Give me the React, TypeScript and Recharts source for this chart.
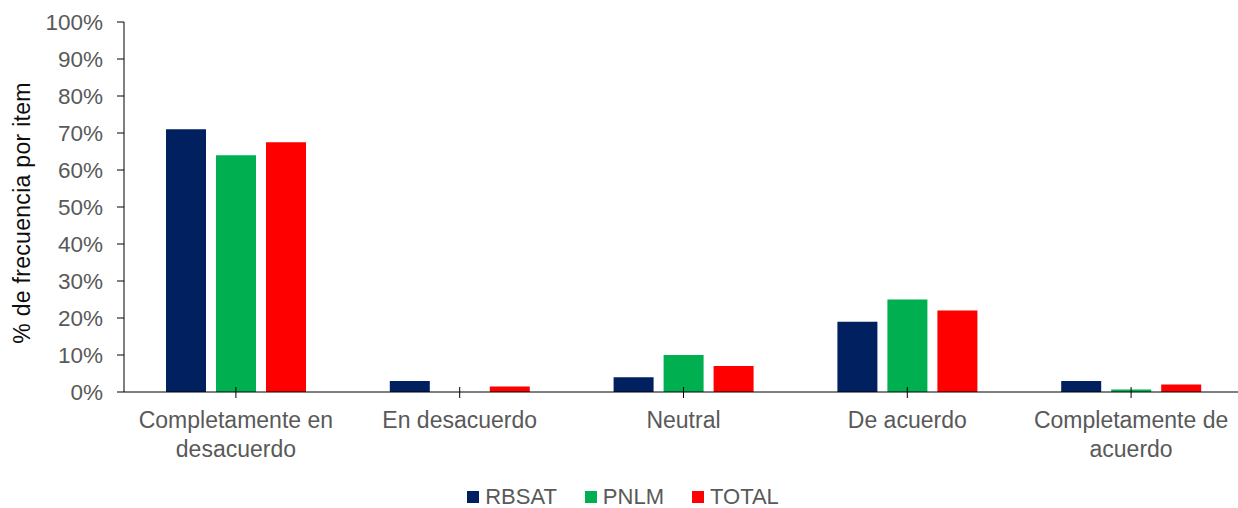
import { BarChart, Bar, XAxis, YAxis, Legend } from 'recharts'

const categories = [
  'Completamente en\ndesacuerdo',
  'En desacuerdo',
  'Neutral',
  'De acuerdo',
  'Completamente de\nacuerdo',
]
const rbsat = [71, 3, 4, 19, 3]
const pnlm = [64, 0, 10, 25, 0.7]
const total = [67.5, 1.5, 7, 22, 2]
const yTicks = [0, 10, 20, 30, 40, 50, 60, 70, 80, 90, 100]

const seriesNames = ['RBSAT', 'PNLM', 'TOTAL']
const seriesColors = ['#002060', '#00B050', '#FF0000']

const data = categories.map((c, i) => ({ name: c, RBSAT: rbsat[i], PNLM: pnlm[i], TOTAL: total[i] }))

const FONT = '"Liberation Sans", Arial, sans-serif'
const GREY = '#595959'

const CategoryTick = ({ x, y, payload }: any) => {
  const lines = String(payload.value).split('\n')
  return (
    <g>
      <line x1={x} x2={x} y1={y - 5} y2={y + 6} stroke="#000" />
      <text x={x} y={y + 36} textAnchor="middle" fill={GREY} fontSize={23} fontFamily={FONT}>
        {lines.map((l, i) => (
          <tspan key={i} x={x} dy={i === 0 ? 0 : 29}>{l}</tspan>
        ))}
      </text>
    </g>
  )
}

const YLabel = () => (
  <text x={30} y={213} transform="rotate(-90 30 213)" textAnchor="middle" fill="#0d0d0d" fontSize={23} fontFamily={FONT} letterSpacing={0.3}>
    % de frecuencia por item
  </text>
)

const LegendContent = () => (
  <div style={{ display: 'flex', justifyContent: 'center', alignItems: 'center', fontFamily: FONT, fontSize: 22, color: GREY, paddingLeft: 8 }}>
    {seriesNames.map((n, i) => (
      <div key={n} style={{ display: 'flex', alignItems: 'center', marginRight: i < seriesNames.length - 1 ? 28 : 0 }}>
        <span style={{ width: 12, height: 12, background: seriesColors[i], marginRight: 6, display: 'inline-block' }} />
        <span>{n}</span>
      </div>
    ))}
  </div>
)

export default function App() {
  return (
    <div style={{ position: 'absolute', left: 0, top: 0, width: 1238, height: 508, overflow: 'hidden', background: '#fff' }}>
      <BarChart width={1243} height={508} data={data} margin={{ top: 22, right: 0, bottom: 0, left: 0 }} barSize={40} barGap={10}>
        <XAxis
          dataKey="name"
          height={116}
          axisLine={{ stroke: '#000' }}
          tickLine={false}
          tickSize={0}
          tickMargin={0}
          interval={0}
          tick={<CategoryTick />}
        />
        <YAxis
          width={124}
          domain={[0, 100]}
          ticks={yTicks}
          tickFormatter={(v) => `${v}%`}
          axisLine={{ stroke: '#000' }}
          tickLine={{ stroke: '#000' }}
          tickSize={7}
          tickMargin={14}
          tick={{ fill: GREY, fontSize: 22.5, fontFamily: FONT }}
          label={<YLabel />}
        />
        <Legend
          verticalAlign="middle"
          align="center"
          layout="horizontal"
          content={<LegendContent />}
          wrapperStyle={{ left: 0, width: 1238, top: 484 }}
        />
        {seriesNames.map((n, i) => (
          <Bar key={n} dataKey={n} fill={seriesColors[i]} isAnimationActive={false} />
        ))}
      </BarChart>
    </div>
  )
}
